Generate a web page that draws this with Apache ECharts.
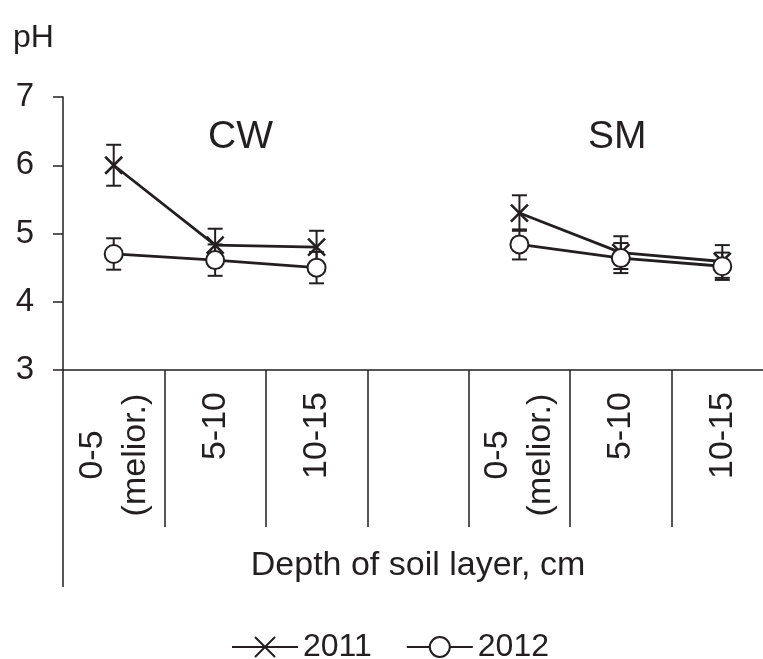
<!DOCTYPE html>
<html>
<head>
<meta charset="utf-8">
<script src="https://cdn.jsdelivr.net/npm/echarts@6/dist/echarts.min.js"></script>
<style>
html,body{margin:0;padding:0;background:#fff;}
#chart{width:763px;height:659px;}
</style>
</head>
<body>
<div id="chart"></div>
<script>
// ---- data ----
const categories = ['0-5\n(melior.)', '5-10', '10-15', '', '0-5\n(melior.)', '5-10', '10-15'];
const groupLabels = ['CW', 'SM'];
const axisTitle = 'Depth of soil layer, cm';
const yName = 'pH';
const seriesNames = ['2011', '2012'];
const ph2011 = [6.00, 4.83, 4.80, null, 5.30, 4.72, 4.59];
const err2011 = [0.30, 0.24, 0.24, null, 0.26, 0.24, 0.24];
const ph2012 = [4.70, 4.61, 4.50, null, 4.84, 4.64, 4.52];
const err2012 = [0.23, 0.23, 0.23, null, 0.22, 0.22, 0.20];
const yMin = 3, yMax = 7, yStep = 1;

const INK = '#231f20';
const FONT = 'Liberation Sans, Arial, sans-serif';

function errData(vals, errs) {
  const out = [];
  vals.forEach((v, i) => { if (v != null) out.push([i, v - errs[i], v + errs[i]]); });
  return out;
}
function renderErr(params, api) {
  const x = api.value(0);
  const lo = api.coord([x, api.value(1)]);
  const hi = api.coord([x, api.value(2)]);
  const hw = 7.5;
  const st = { stroke: INK, lineWidth: 2 };
  return {
    type: 'group',
    children: [
      { type: 'line', shape: { x1: lo[0], y1: lo[1], x2: hi[0], y2: hi[1] }, style: st },
      { type: 'line', shape: { x1: lo[0] - hw, y1: lo[1], x2: lo[0] + hw, y2: lo[1] }, style: st },
      { type: 'line', shape: { x1: hi[0] - hw, y1: hi[1], x2: hi[0] + hw, y2: hi[1] }, style: st }
    ]
  };
}

const chart = echarts.init(document.getElementById('chart'), null, { renderer: 'canvas' });
chart.setOption({
  animation: false,
  backgroundColor: '#fff',
  textStyle: { fontFamily: FONT, color: INK },
  title: [
    { text: yName, left: 8, top: 17, textStyle: { fontFamily: FONT, fontSize: 32, fontWeight: 'normal', color: INK } },
    { text: groupLabels[0], left: 203, top: 113, textStyle: { fontFamily: FONT, fontSize: 39, fontWeight: 'normal', color: INK } },
    { text: groupLabels[1], left: 583, top: 113, textStyle: { fontFamily: FONT, fontSize: 39, fontWeight: 'normal', color: INK } }
  ],
  grid: { left: 63, top: 97, height: 273, width: 710, containLabel: false, outerBoundsMode: 'none' },
  legend: {
    data: seriesNames,
    left: 231, top: 631, padding: 0,
    itemWidth: 66, itemHeight: 25, itemGap: 34,
    textStyle: { fontFamily: FONT, fontSize: 32, color: INK }
  },
  xAxis: [
    {
      type: 'category', data: categories, position: 'bottom', boundaryGap: true,
      axisLine: { show: true, lineStyle: { color: INK, width: 1.5 } },
      axisTick: { show: true, interval: 0, length: 157, lineStyle: { color: INK, width: 1.5 } },
      axisLabel: {
        interval: 0, rotate: 90, margin: 22, fontSize: 34, fontFamily: FONT, color: INK,
        formatter: function (v) {
          if (v.indexOf('\n') >= 0) {
            return v.split('\n').map(s => '{c|' + s + '}').join('\n');
          }
          return v;
        },
        rich: { c: { width: 126, align: 'center', fontSize: 34, fontFamily: FONT, color: INK, lineHeight: 43 } }
      }
    },
    {
      type: 'category', data: [axisTitle], position: 'bottom', boundaryGap: true,
      axisLine: { show: false },
      axisTick: { show: true, interval: 0, length: 217, lineStyle: { color: INK, width: 1.5 } },
      axisLabel: { interval: 0, margin: 179, fontSize: 34, fontFamily: FONT, color: INK }
    }
  ],
  yAxis: {
    type: 'value', min: yMin, max: yMax, interval: yStep,
    axisLine: { show: true, lineStyle: { color: INK, width: 1.5 } },
    axisTick: { show: true, length: 10, lineStyle: { color: INK, width: 1.5 } },
    splitLine: { show: false },
    axisLabel: { margin: 29, fontSize: 33, fontFamily: FONT, color: INK }
  },
  series: [
    { name: 'err2011', type: 'custom', renderItem: renderErr, data: errData(ph2011, err2011), encode: { x: 0, y: [1, 2] }, z: 1, silent: true },
    { name: 'err2012', type: 'custom', renderItem: renderErr, data: errData(ph2012, err2012), encode: { x: 0, y: [1, 2] }, z: 1, silent: true },
    {
      name: seriesNames[0], type: 'line', data: ph2011, connectNulls: false, z: 3,
      symbol: 'path://M0,0L10,10M10,0L0,10', symbolSize: 17, showAllSymbol: true,
      lineStyle: { color: INK, width: 2.8 },
      itemStyle: { color: INK, borderColor: INK, borderWidth: 2.5 }
    },
    {
      name: seriesNames[1], type: 'line', data: ph2012, connectNulls: false, z: 4,
      symbol: 'emptyCircle', symbolSize: 18, showAllSymbol: true,
      lineStyle: { color: INK, width: 2.8 },
      itemStyle: { color: INK, borderColor: INK, borderWidth: 2.5 }
    }
  ]
});
</script>
</body>
</html>
